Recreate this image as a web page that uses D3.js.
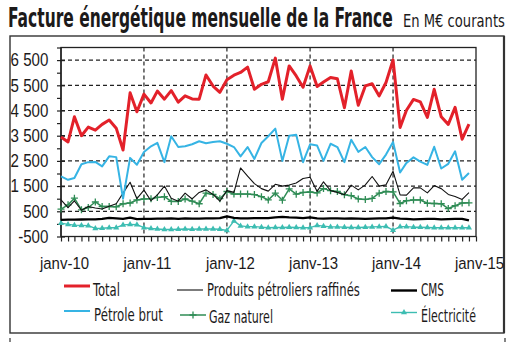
<!DOCTYPE html>
<html>
<head>
<meta charset="utf-8">
<script src="https://cdn.jsdelivr.net/npm/d3@7"></script>
<style>
body { margin: 0; background: #fff; }
svg { display: block; font-family: "Liberation Sans Narrow", "DejaVu Sans Condensed", "Liberation Sans", sans-serif; }
</style>
</head>
<body>
<svg id="chart" width="514" height="342"></svg>
<script>
// monthly values, M€ courants, janv-2010 .. déc-2014
var months = d3.timeMonth.range(new Date(2010, 0, 1), new Date(2015, 0, 1));

var total = [3450, 3250, 4250, 3500, 3840, 3720, 3950, 4120, 3800, 2930,
    5200, 4450, 5150, 4800, 5270, 4950, 5290, 4830, 5080, 4960,
    4950, 5910, 5470, 5220, 5720, 5900, 6010, 6220, 5345, 5540,
    5640, 6580, 4950, 6270, 5870, 5420, 6270, 5450, 5630, 5810,
    5760, 4610, 6070, 4710, 5475, 5560, 5080, 5610, 6510, 3830,
    4510, 4940, 4845, 4225, 5340, 4250, 3950, 4625, 3360, 3960];

var petroleBrut = [1885, 1750, 1820, 2370, 2450, 2460, 2280, 2680, 2650, 1000,
    2620, 2350, 2850, 3080, 3215, 2450, 3480, 3050, 3080, 3160,
    3280, 3200, 3250, 3280, 3180, 3050, 2680, 3050, 2580, 3210,
    3480, 3780, 2500, 3500, 3540, 2450, 3160, 3110, 2500, 3180,
    3050, 2450, 3340, 2860, 3050, 2650, 2370, 2750, 3250, 2040,
    2420, 2640, 2470, 2340, 3060, 2200, 2385, 2880, 1750, 2020];

var produitsRaffines = [950, 650, 910, 540, 690, 630, 590, 700, 800, 1220,
    1650, 1000, 1340, 920, 1150, 1500, 1020, 900, 1220, 990,
    1250, 1350, 1170, 900, 1320, 1250, 2220, 1900, 1600, 1400,
    1300, 1570, 1500, 1540, 1620, 1800, 1850, 1290, 1670, 1320,
    1250, 1160, 1540, 1350, 1550, 1880, 1500, 1550, 2085, 1150,
    1140, 1430, 1430, 1230, 1520, 1400, 1170, 1090, 970, 1240];

var cms = [160, 170, 170, 175, 180, 180, 200, 240, 220, 200,
    250, 190, 200, 200, 210, 210, 220, 200, 220, 210,
    210, 220, 220, 230, 300, 240, 220, 220, 230, 230,
    230, 260, 280, 260, 250, 230, 260, 220, 210, 220,
    220, 210, 220, 210, 200, 210, 220, 220, 250, 210,
    200, 180, 190, 200, 200, 180, 190, 200, 200, 140];

var gazNaturel = [590, 755, 1020, 560, 650, 870, 690, 690, 680, 800,
    830, 950, 990, 1000, 1050, 1080, 890, 890, 990, 900,
    800, 1220, 1170, 1000, 1285, 1185, 1185, 1185, 1165, 1080,
    950, 1220, 940, 1390, 1180, 1250, 1270, 1230, 1400, 1320,
    1285, 1160, 1120, 990, 970, 1010, 1220, 1285, 1270, 810,
    920, 950, 950, 820, 810, 800, 610, 720, 830, 835];

var electricite = [30, -20, -50, -60, -70, -180, -170, -150, -150, -40,
    -20, -30, -150, -180, -200, -220, -220, -210, -200, -210,
    -200, -200, -200, -210, -260, 120, -80, -110, -110, -130,
    -150, -140, -140, -130, -140, -150, -150, -60, -90, -120,
    -120, -130, -140, -140, -130, -120, -110, -100, -250, -110,
    -110, -130, -130, -140, -150, -150, -150, -150, -150, -150];

var yTickValues = [-500, 500, 1500, 2500, 3500, 4500, 5500, 6500];
var yMinorValues = [0, 1000, 2000, 3000, 4000, 5000, 6000, 7000];
var xTickLabels = ["janv-10", "janv-11", "janv-12", "janv-13", "janv-14", "janv-15"];
var years = [new Date(2010, 0, 1), new Date(2011, 0, 1), new Date(2012, 0, 1),
    new Date(2013, 0, 1), new Date(2014, 0, 1), new Date(2015, 0, 1)];

var series = [
    { name: "Total", values: total, color: "#e3212a", width: 3 },
    { name: "Produits pétroliers raffinés", values: produitsRaffines, color: "#111", width: 1.1 },
    { name: "CMS", values: cms, color: "#000", width: 2.4 },
    { name: "Pétrole brut", values: petroleBrut, color: "#36b4e4", width: 2 },
    { name: "Gaz naturel", values: gazNaturel, color: "#2f8c55", width: 1.5, marker: "plus" },
    { name: "Électricité", values: electricite, color: "#3dbdb2", width: 1.4, marker: "triangle" }
];

var svg = d3.select("#chart");

var fr = d3.formatLocale({ decimal: ",", thousands: " ", grouping: [3], currency: ["", " €"], minus: "-" });
var fmt = fr.format(",d");

// squeeze a text horizontally so it spans the given width
function squeeze(text, width) {
    var len = text.node().getComputedTextLength();
    var tx = +text.attr("x"), ty = +text.attr("y");
    text.attr("x", 0).attr("y", 0)
        .attr("transform", "translate(" + tx + "," + ty + ") scale(" + (width / len) + ",1)");
}

var x = d3.scaleTime()
    .domain([new Date(2010, 0, 1), new Date(2015, 0, 1)])
    .range([61, 476]);
var y = d3.scaleLinear()
    .domain([-500, 7000])
    .range([236.5, 47.5]);

// outer box
svg.append("rect")
    .attr("x", 10).attr("y", 36)
    .attr("width", 494).attr("height", 297)
    .attr("fill", "none")
    .attr("stroke", "#333")
    .attr("stroke-width", 1.4);
svg.append("line")
    .attr("x1", 504).attr("x2", 504).attr("y1", 36).attr("y2", 333)
    .attr("stroke", "#333").attr("stroke-width", 2.2);
svg.append("line").attr("x1", 10).attr("x2", 10).attr("y1", 338).attr("y2", 342)
    .attr("stroke", "#333").attr("stroke-width", 1.2);
svg.append("line").attr("x1", 505).attr("x2", 505).attr("y1", 338).attr("y2", 342)
    .attr("stroke", "#333").attr("stroke-width", 1.2);

// title
var title = svg.append("text")
    .attr("x", 8).attr("y", 27)
    .attr("font-size", 27)
    .attr("font-weight", "bold")
    .attr("fill", "#1c1a1a")
    .text("Facture énergétique mensuelle de la France");
squeeze(title, 385);
var subtitle = svg.append("text")
    .attr("x", 403).attr("y", 27)
    .attr("font-size", 18)
    .attr("fill", "#1c1a1a")
    .text("En M€ courants");
squeeze(subtitle, 102);

// grid
var grid = svg.append("g")
    .attr("stroke", "#222")
    .attr("stroke-width", 1.2)
    .attr("stroke-dasharray", "4,3");
grid.selectAll(".hgrid")
    .data(yTickValues.filter(function (d) { return d > -500; }))
    .enter().append("line")
    .attr("x1", x.range()[0]).attr("x2", x.range()[1])
    .attr("y1", function (d) { return y(d); })
    .attr("y2", function (d) { return y(d); });
grid.selectAll(".vgrid")
    .data(years.slice(1, -1))
    .enter().append("line")
    .attr("x1", function (d) { return x(d); })
    .attr("x2", function (d) { return x(d); })
    .attr("y1", y(7000)).attr("y2", y(-500));

// plot frame
svg.append("rect")
    .attr("x", x.range()[0]).attr("y", y(7000))
    .attr("width", x.range()[1] - x.range()[0])
    .attr("height", y(-500) - y(7000))
    .attr("fill", "none")
    .attr("stroke", "#222")
    .attr("stroke-width", 1.3);

// y axis
var yAxis = svg.append("g")
    .attr("transform", "translate(" + x.range()[0] + ",0)")
    .call(d3.axisLeft(y).tickValues(yTickValues).tickSize(4).tickPadding(11).tickFormat(fmt));
yAxis.select(".domain").remove();
yAxis.selectAll(".tick text")
    .attr("font-family", null)
    .attr("font-size", 18)
    .attr("fill", "#1c1a1a")
    .attr("transform", "scale(0.84,1)");
svg.append("g")
    .attr("transform", "translate(" + x.range()[0] + ",0)")
    .call(d3.axisLeft(y).tickValues(yTickValues).tickSize(-4).tickFormat(""))
    .select(".domain").remove();
svg.append("g")
    .attr("transform", "translate(" + x.range()[0] + ",0)")
    .call(d3.axisLeft(y).tickValues(yMinorValues).tickSize(4).tickFormat(""))
    .select(".domain").remove();

// x axis
var xAxis = svg.append("g")
    .attr("transform", "translate(0," + y(-500) + ")")
    .call(d3.axisBottom(x).ticks(d3.timeMonth.every(1)).tickSize(5).tickFormat(""));
xAxis.select(".domain").remove();
var xLabels = svg.append("g")
    .attr("transform", "translate(0," + y(-500) + ")")
    .call(d3.axisBottom(x).tickValues(years).tickSize(0).tickPadding(20)
        .tickFormat(function (d, i) { return xTickLabels[i]; }));
xLabels.select(".domain").remove();
xLabels.selectAll(".tick text")
    .attr("font-family", null)
    .attr("font-size", 17)
    .attr("fill", "#1c1a1a")
    .attr("transform", "translate(3,0) scale(0.88,1)");

svg.selectAll(".tick line").attr("stroke", "#222").attr("stroke-width", 1.2);

// left axis line over the ticks
svg.append("line")
    .attr("x1", x.range()[0]).attr("x2", x.range()[0])
    .attr("y1", y(7000)).attr("y2", y(-500))
    .attr("stroke", "#222").attr("stroke-width", 1.4);

// series
var line = d3.line()
    .x(function (d, i) { return x(months[i]); })
    .y(function (d) { return y(d); });

var drawOrder = [5, 2, 4, 1, 3, 0];
drawOrder.forEach(function (k) {
    var s = series[k];
    svg.append("path")
        .datum(s.values)
        .attr("fill", "none")
        .attr("stroke", s.color)
        .attr("stroke-width", s.width)
        .attr("stroke-linejoin", "round")
        .attr("d", line);
    if (s.marker === "plus") {
        svg.append("g").selectAll("path")
            .data(s.values)
            .enter().append("path")
            .attr("d", "M-3.5,0H3.5M0,-3.5V3.5")
            .attr("stroke", s.color)
            .attr("stroke-width", 1.3)
            .attr("transform", function (d, i) { return "translate(" + x(months[i]) + "," + y(d) + ")"; });
    } else if (s.marker === "triangle") {
        svg.append("g").selectAll("path")
            .data(s.values)
            .enter().append("path")
            .attr("d", d3.symbol(d3.symbolTriangle, 16))
            .attr("fill", s.color)
            .attr("transform", function (d, i) { return "translate(" + x(months[i]) + "," + y(d) + ")"; });
    }
});

// legend
var legendPos = [
    { lx: 64, ly: 286, tx: 93, ty: 295.5, tw: 27 },
    { lx: 177, ly: 290, tx: 207, ty: 296, tw: 153 },
    { lx: 391, ly: 290.5, tx: 421, ty: 296, tw: 23 },
    { lx: 64, ly: 311, tx: 94, ty: 320.5, tw: 69 },
    { lx: 180, ly: 315, tx: 209, ty: 323, tw: 64 },
    { lx: 391, ly: 312.5, tx: 421, ty: 321.5, tw: 55 }
];
var legend = svg.append("g");
series.forEach(function (s, k) {
    var p = legendPos[k];
    legend.append("line")
        .attr("x1", p.lx).attr("x2", p.lx + 26)
        .attr("y1", p.ly).attr("y2", p.ly)
        .attr("stroke", s.color)
        .attr("stroke-width", s.width);
    if (s.marker === "plus") {
        legend.append("path")
            .attr("d", "M-3.5,0H3.5M0,-3.5V3.5")
            .attr("stroke", s.color).attr("stroke-width", 1.3)
            .attr("transform", "translate(" + (p.lx + 13) + "," + p.ly + ")");
    } else if (s.marker === "triangle") {
        legend.append("path")
            .attr("d", d3.symbol(d3.symbolTriangle, 16))
            .attr("fill", s.color)
            .attr("transform", "translate(" + (p.lx + 13) + "," + p.ly + ")");
    }
    var t = legend.append("text")
        .attr("x", p.tx).attr("y", p.ty)
        .attr("font-size", 18)
        .attr("fill", "#1c1a1a")
        .text(s.name);
    squeeze(t, p.tw);
});
</script>
</body>
</html>
